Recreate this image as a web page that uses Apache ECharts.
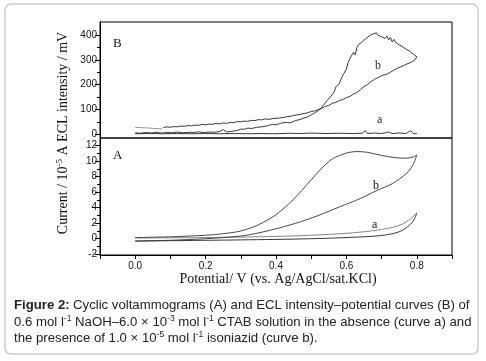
<!DOCTYPE html>
<html><head><meta charset="utf-8">
<script src="https://cdn.jsdelivr.net/npm/echarts@6/dist/echarts.min.js"></script>
<style>html,body{margin:0;padding:0;background:#fff}#c{width:486px;height:361px}</style>
</head><body><div id="c"></div>
<script>
// ---- data ----
const xTickLabels = [0, 0.2, 0.4, 0.6, 0.8];
const eclTickLabels = [0, 100, 200, 300, 400];
const eclMinorTicks = [50, 150, 250, 350];
const cvTickLabels = [-2, 0, 2, 4, 6, 8, 10, 12];
const cvMinorTicks = [-1, 1, 3, 5, 7, 9, 11];

// ECL (panel B), curve b forward scan
const eclBFwd = [[0.000,6],[0.015,4],[0.03,7],[0.045,5],[0.06,8],[0.075,5],[0.09,7],[0.105,6],[0.12,9],[0.135,6],[0.15,8],[0.165,7],[0.18,10],[0.195,7],[0.21,9],[0.225,8],[0.24,11],[0.25,19],[0.26,9],[0.275,12],[0.29,15],[0.30,21],[0.31,20],[0.32,25],[0.33,23],[0.345,28],[0.36,30],[0.375,34],[0.39,40],[0.40,38],[0.415,45],[0.43,48],[0.44,46],[0.455,55],[0.47,60],[0.48,66],[0.49,70],[0.50,78],[0.51,86],[0.52,95],[0.53,108],[0.535,118],[0.545,135],[0.55,128],[0.56,160],[0.565,170],[0.57,190],[0.58,205],[0.585,222],[0.59,238],[0.6,262],[0.605,290],[0.61,285],[0.615,318],[0.62,330],[0.625,320],[0.63,350],[0.635,362],[0.64,355],[0.645,372],[0.65,368],[0.655,385],[0.66,380],[0.665,396],[0.67,392],[0.675,404],[0.68,396],[0.685,408],[0.69,398],[0.695,405],[0.70,392],[0.705,400],[0.71,386],[0.715,395],[0.72,380],[0.725,390],[0.73,372],[0.735,382],[0.74,370],[0.745,378],[0.75,360],[0.755,368],[0.76,352],[0.765,358],[0.77,342],[0.775,348],[0.78,334],[0.785,338],[0.79,322],[0.795,318],[0.80,312]];
// ECL curve b reverse scan
const eclBRev = [[0.80,312],[0.795,300],[0.79,305],[0.785,290],[0.78,296],[0.775,285],[0.77,290],[0.765,278],[0.76,284],[0.755,272],[0.75,280],[0.745,266],[0.74,272],[0.735,258],[0.73,262],[0.725,250],[0.72,256],[0.715,242],[0.71,246],[0.70,236],[0.695,240],[0.69,228],[0.68,222],[0.675,215],[0.67,212],[0.66,200],[0.65,192],[0.645,185],[0.64,180],[0.63,168],[0.62,162],[0.61,152],[0.60,148],[0.59,140],[0.58,136],[0.57,128],[0.56,125],[0.55,116],[0.54,112],[0.53,104],[0.52,100],[0.51,94],[0.50,92],[0.49,86],[0.48,84],[0.47,80],[0.46,78],[0.45,76],[0.44,72],[0.43,71],[0.42,67],[0.41,66],[0.40,64],[0.39,63],[0.38,60],[0.37,62],[0.36,58],[0.35,59],[0.34,55],[0.33,56],[0.32,52],[0.31,53],[0.30,50],[0.29,51],[0.28,47],[0.27,48],[0.26,44],[0.25,46],[0.24,42],[0.23,44],[0.22,40],[0.21,41],[0.20,38],[0.19,40],[0.18,36],[0.17,37],[0.16,34],[0.15,35],[0.14,32],[0.13,33],[0.12,30],[0.11,31],[0.10,28],[0.09,30],[0.08,27]];
const eclBStart = [[0,28],[0.04,25],[0.077,21]];
// ECL curve a
const eclA = [[0,2],[0.04,3],[0.08,2],[0.12,3],[0.16,2],[0.2,3],[0.24,2],[0.28,3],[0.32,2],[0.36,3],[0.40,2],[0.44,4],[0.47,3],[0.5,5],[0.54,3],[0.58,4],[0.62,3],[0.645,4],[0.654,15],[0.66,3],[0.68,5],[0.70,3],[0.72,9],[0.73,3],[0.75,5],[0.77,3],[0.782,14],[0.79,3],[0.80,2]];

// CV (panel A)
const cvBFwd = [[0,0.15],[0.1,0.25],[0.2,0.45],[0.25,0.65],[0.3,1.0],[0.35,1.8],[0.4,3.1],[0.45,5.1],[0.5,7.6],[0.53,9.1],[0.56,10.3],[0.6,11.05],[0.63,11.25],[0.66,11.15],[0.7,10.75],[0.74,10.45],[0.77,10.4],[0.79,10.55],[0.8,10.8]];
const cvBRev = [[0.8,10.8],[0.79,9.6],[0.77,8.4],[0.73,7.1],[0.69,6.3],[0.64,5.2],[0.58,4.1],[0.52,3.0],[0.47,2.2],[0.41,1.4],[0.35,0.75],[0.3,0.35],[0.2,0.0],[0.1,-0.2],[0,-0.3]];
const cvAFwd = [[0,0.1],[0.2,0.15],[0.4,0.3],[0.5,0.45],[0.6,0.7],[0.67,1.0],[0.73,1.45],[0.76,1.9],[0.78,2.5],[0.8,3.3]];
const cvARev = [[0.8,3.3],[0.79,2.3],[0.77,1.4],[0.75,0.9],[0.72,0.55],[0.67,0.3],[0.5,0.0],[0.3,-0.15],[0,-0.3]];

const xTicks = [-0.1,0,0.1,0.2,0.3,0.4,0.5,0.6,0.7,0.8,0.9];

// ---- chart ----
const chart = echarts.init(document.getElementById('c'), null, {renderer:'canvas'});
const SANS = '"Liberation Sans", Arial, sans-serif';
const SERIF = '"Liberation Serif", "Times New Roman", serif';
const lbl = {fontFamily: SANS, fontSize: 10, color: '#111'};

function line(data, xi, yi, color, smooth) {
  return {type:'line', data, xAxisIndex:xi, yAxisIndex:yi, showSymbol:false, symbol:'none',
    smooth: smooth || false, lineStyle:{color, width:0.9}, silent:true, animation:false};
}

chart.setOption({
  animation:false,
  grid:[
    {left:100, top:22, width:352, height:116, show:true, borderColor:'#000', borderWidth:1, backgroundColor:'transparent'},
    {left:100, top:138, width:352, height:117, show:true, borderColor:'#000', borderWidth:1, backgroundColor:'transparent'}
  ],
  xAxis:[
    {type:'value', gridIndex:0, min:-0.1, max:0.9, axisLine:{show:false, onZero:false}, axisTick:{show:false}, axisLabel:{show:false}, splitLine:{show:false}},
    {type:'value', gridIndex:1, min:-0.1, max:0.9, interval:0.1,
      axisLine:{show:true, onZero:false, lineStyle:{color:'#000', width:1}},
      axisTick:{show:true, length:4, inside:false, customValues:xTicks, lineStyle:{color:'#000'}},
      axisLabel:Object.assign({margin:6, customValues:xTickLabels, formatter:v=>v.toFixed(1)}, lbl),
      splitLine:{show:false}}
  ],
  yAxis:[
    {type:'value', gridIndex:0, min:-15, max:452,
      axisLine:{show:true, onZero:false, lineStyle:{color:'#000'}},
      axisTick:{show:true, length:5, customValues:eclTickLabels, lineStyle:{color:'#000'}},
      axisLabel:Object.assign({margin:3, customValues:eclTickLabels}, lbl), splitLine:{show:false}},
    {type:'value', gridIndex:0, min:-15, max:452, position:'left', offset:0,
      axisLine:{show:false, onZero:false}, axisTick:{show:true, length:3, customValues:eclMinorTicks, lineStyle:{color:'#000'}},
      axisLabel:{show:false}, splitLine:{show:false}},
    {type:'value', gridIndex:1, min:-2.1, max:13,
      axisLine:{show:true, onZero:false, lineStyle:{color:'#000'}},
      axisTick:{show:true, length:5, customValues:cvTickLabels, lineStyle:{color:'#000'}},
      axisLabel:Object.assign({margin:3, customValues:cvTickLabels}, lbl), splitLine:{show:false}},
    {type:'value', gridIndex:1, min:-2.1, max:13, position:'left', offset:0,
      axisLine:{show:false, onZero:false}, axisTick:{show:true, length:3, customValues:cvMinorTicks, lineStyle:{color:'#000'}},
      axisLabel:{show:false}, splitLine:{show:false}}
  ],
  series:[
    line(eclBStart, 0, 0, '#888'),
    line(eclA, 0, 0, '#222'),
    line(eclBFwd, 0, 0, '#222'),
    line(eclBRev, 0, 0, '#222'),
    line(cvAFwd, 1, 2, '#777', 0.3),
    line(cvARev, 1, 2, '#222', 0.3),
    line(cvBFwd, 1, 2, '#333', 0.3),
    line(cvBRev, 1, 2, '#333', 0.3)
  ],
  graphic:[
    {type:'rect', shape:{x:5, y:4, width:473, height:350, r:6}, style:{fill:'none', stroke:'#cccccc', lineWidth:1.5}, z:-1},
    {type:'text', x:113, y:37, style:{text:'B', font:'13px '+SERIF, fill:'#111'}},
    {type:'text', x:113, y:149, style:{text:'A', font:'13px '+SERIF, fill:'#111'}},
    {type:'text', x:375, y:60, style:{text:'b', font:'12px '+SERIF, fill:'#1b2450'}},
    {type:'text', x:377, y:114, style:{text:'a', font:'12px '+SERIF, fill:'#1b2450'}},
    {type:'text', x:373, y:180, style:{text:'b', font:'12px '+SERIF, fill:'#111'}},
    {type:'text', x:372, y:219, style:{text:'a', font:'12px '+SERIF, fill:'#111'}},
    {type:'text', x:63, y:133, rotation:Math.PI/2,
      style:{text:'{n|Current / 10}{s|-5}{n| A ECL intensity / mV}', align:'center', verticalAlign:'middle',
        rich:{n:{font:'14px '+SERIF, fill:'#111'}, s:{font:'9px '+SERIF, fill:'#111', verticalAlign:'top', padding:[0,0,6,0]}}}},
    {type:'text', x:278, y:279, style:{text:'Potential/ V (vs. Ag/AgCl/sat.KCl)', font:'14px '+SERIF, fill:'#111', align:'center', verticalAlign:'middle'}},
    {type:'text', x:14, y:305, style:{
      text:'{b|Figure 2:} {n|Cyclic voltammograms (A) and ECL intensity–potential curves (B) of}',
      verticalAlign:'middle', rich:{b:{font:'bold 13.2px '+SANS, fill:'#222'}, n:{font:'13.2px '+SANS, fill:'#222'}}}},
    {type:'text', x:14, y:322, style:{
      text:'{n|0.6 mol l}{s|-1}{n| NaOH–6.0 × 10}{s|-3}{n| mol l}{s|-1}{n| CTAB solution in the absence (curve a) and}',
      verticalAlign:'middle', rich:{n:{font:'13.2px '+SANS, fill:'#222'}, s:{font:'8.5px '+SANS, fill:'#222', padding:[0,0,6,0]}}}},
    {type:'text', x:14, y:338, style:{
      text:'{n|the presence of 1.0 × 10}{s|-5}{n| mol l}{s|-1}{n| isoniazid (curve b).}',
      verticalAlign:'middle', rich:{n:{font:'13.2px '+SANS, fill:'#222'}, s:{font:'8.5px '+SANS, fill:'#222', padding:[0,0,6,0]}}}}
  ]
});
</script>
</body></html>
